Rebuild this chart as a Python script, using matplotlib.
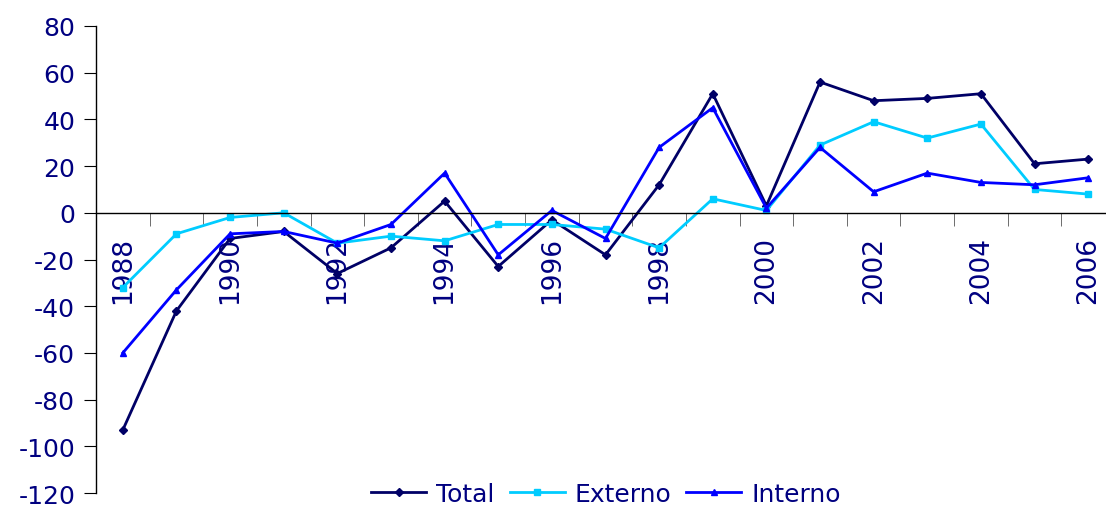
import numpy as np
import matplotlib.pyplot as plt

plt.rcParams['axes.unicode_minus'] = False

years = list(range(1988, 2007))
total = [-93, -42, -11, -8, -26, -15, 5, -23, -3, -18, 12, 51, 3, 56, 48, 49, 51, 21, 23]
externo = [-32, -9, -2, 0, -13, -10, -12, -5, -5, -7, -15, 6, 1, 29, 39, 32, 38, 10, 8]
interno = [-60, -33, -9, -8, -13, -5, 17, -18, 1, -11, 28, 45, 2, 28, 9, 17, 13, 12, 15]

navy = '#000080'
fig = plt.figure(figsize=(11.06, 5.10), dpi=100)
ax = fig.add_axes([96 / 1106, 16 / 510, 1019 / 1106, 467 / 510])

x = np.arange(len(years))
ax.plot(x, total, color='#000066', lw=2, marker='D', ms=4, label='Total')
ax.plot(x, externo, color='#00CCFF', lw=2, marker='s', ms=4, label='Externo')
ax.plot(x, interno, color='#0000FF', lw=2, marker='^', ms=5, label='Interno')

ax.set_xlim(-0.5, len(years) - 0.5)
ax.set_ylim(-120, 80)
ax.set_yticks(range(-120, 81, 20))

ax.spines['top'].set_visible(False)
ax.spines['right'].set_visible(False)
ax.spines['bottom'].set_position(('data', 0))
ax.spines['bottom'].set_linewidth(1)
ax.spines['left'].set_linewidth(1)

# year labels on every other category, tick marks between categories
ax.set_xticks(x[::2])
ax.set_xticklabels([str(y) for y in years[::2]], rotation=90, va='top',
                   fontsize=19, color=navy)
ax.set_xticks(np.arange(-0.5, len(years), 1), minor=True)
ax.tick_params(axis='x', which='major', length=0, pad=17)
ax.tick_params(axis='x', which='minor', length=9, direction='out', color='#555555')
ax.tick_params(axis='y', length=9, direction='out', labelsize=18, labelcolor=navy, pad=6)

fig.legend(loc='center', bbox_to_anchor=(0.548, 15 / 510), ncol=3, frameon=False,
           fontsize=18, labelcolor=navy, handlelength=2.2, handletextpad=0.4,
           columnspacing=0.6)

fig.savefig('out.png', dpi=100)
